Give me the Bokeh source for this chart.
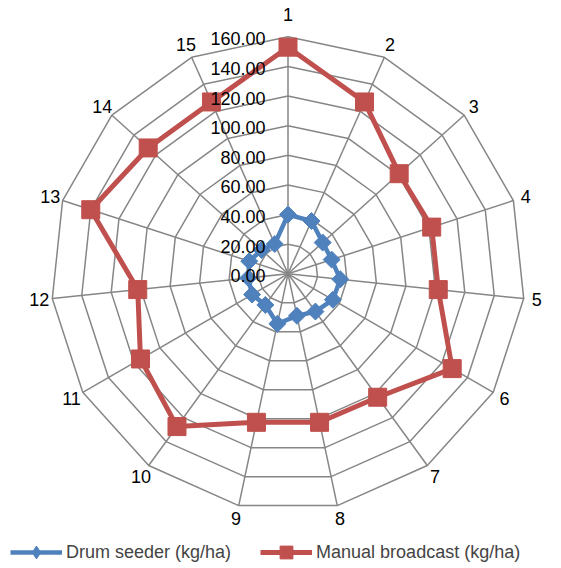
import numpy as np
from bokeh.plotting import figure
from bokeh.models import Legend, LegendItem, ColumnDataSource
from bokeh.core.properties import value
from bokeh.embed import file_html
from bokeh.resources import INLINE

# ---- data ----
categories = [str(i) for i in range(1, 16)]
drum_seeder = [40, 39, 31.5, 31, 35.5, 35, 31.5, 29, 34.5, 26, 28, 27, 27.5, 24, 22]
manual_broadcast = [153, 127, 101, 102, 102, 128, 103, 102.5, 102.5, 127.5, 115, 102, 140, 127, 127]
ring_values = [20, 40, 60, 80, 100, 120, 140, 160]
tick_values = [0, 20, 40, 60, 80, 100, 120, 140, 160]
tick_labels = ["%.2f" % v for v in tick_values]

# ---- geometry ----
W, H = 553, 566
CX, CY = 287.5, 273.3          # centre position in the plot (px from left / top)
R_MAX = 237.0                   # pixel radius of 160
scale = R_MAX / 160.0
n = len(categories)
theta = np.arange(n) * 2 * np.pi / n   # clockwise from top


def polar(vals):
    r = np.asarray(vals, dtype=float) * scale
    return r * np.sin(theta), r * np.cos(theta)


p = figure(width=W, height=H, x_range=(-CX, W - CX), y_range=(-(H - CY), CY),
           x_axis_type=None, y_axis_type=None, toolbar_location=None,
           output_backend="svg", min_border=0, outline_line_color=None)
p.grid.visible = False
p.background_fill_color = "white"

FONT = "Liberation Sans"
GRID = "#868686"

# rings
xs, ys = [], []
for rv in ring_values:
    x, y = polar([rv] * n)
    xs.append(list(np.append(x, x[0])))
    ys.append(list(np.append(y, y[0])))
p.multi_line(xs, ys, line_color=GRID, line_width=1.5)

# spokes
ox, oy = polar([ring_values[-1]] * n)
p.segment(x0=np.zeros(n), y0=np.zeros(n), x1=ox, y1=oy, line_color=GRID, line_width=1.5)

# series
BLUE = "#4F81BD"
RED = "#C0504D"

dx, dy = polar(drum_seeder)
ds_src = ColumnDataSource(dict(x=list(np.append(dx, dx[0])), y=list(np.append(dy, dy[0]))))
l1 = p.line("x", "y", source=ds_src, line_color=BLUE, line_width=4.5, line_join="round")
p.scatter(dx, dy, marker="square", angle=np.pi / 4, size=12,
          fill_color=BLUE, line_color=BLUE)
# legend-only swatch (diamond)
m1_leg = p.scatter([np.nan], [np.nan], marker="diamond", size=12,
                   fill_color=BLUE, line_color=BLUE)

mx, my = polar(manual_broadcast)
mb_src = ColumnDataSource(dict(x=list(np.append(mx, mx[0])), y=list(np.append(my, my[0]))))
l2 = p.line("x", "y", source=mb_src, line_color=RED, line_width=5, line_join="round")
m2 = p.scatter(mx, my, marker="square", size=18, fill_color=RED, line_color=RED)

# category labels
r_lab = 250 + 9 * np.maximum(np.cos(theta), 0) ** 30
lx, ly = r_lab * np.sin(theta), r_lab * np.cos(theta)
p.text(lx, ly, text=categories, text_align="center", text_baseline="middle",
       text_font=value(FONT), text_font_size="18px", text_color="black")

# value-axis labels
ty = np.array(tick_values, dtype=float) * scale - 2
p.text(np.full(len(tick_values), -22.5), ty, text=tick_labels, text_align="right",
       text_baseline="middle", text_font=value(FONT), text_font_size="18px",
       text_color="black")

legend = Legend(items=[LegendItem(label="Drum seeder (kg/ha)", renderers=[l1, m1_leg]),
                       LegendItem(label="Manual broadcast (kg/ha)", renderers=[l2, m2])],
                orientation="horizontal", location=(10, -2),
                glyph_width=52, glyph_height=32, label_height=32,
                label_standoff=4, spacing=29, padding=0, margin=0,
                label_text_font=FONT, label_text_font_size="18px",
                border_line_color=None, background_fill_alpha=0)
p.add_layout(legend, "center")

open("out.html", "w").write(file_html(p, INLINE))
